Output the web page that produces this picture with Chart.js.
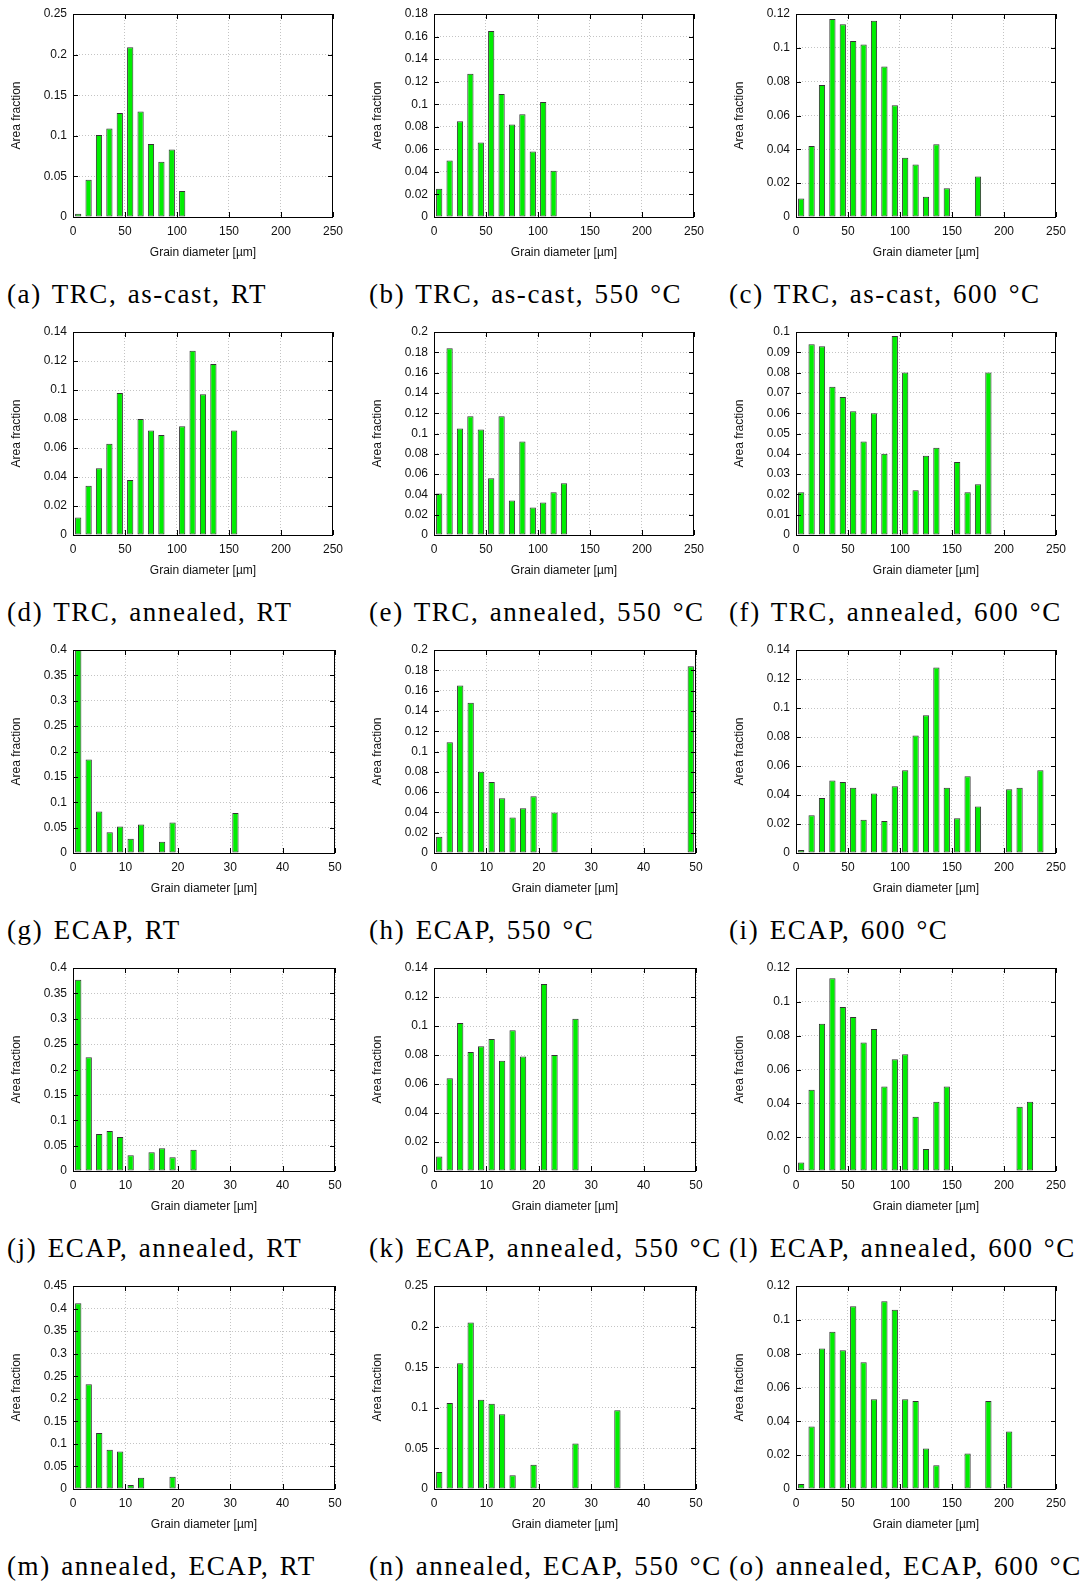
<!DOCTYPE html>
<html>
<head>
<meta charset="utf-8">
<script src="https://cdn.jsdelivr.net/npm/chart.js@4.4.1/dist/chart.umd.min.js"></script>
<style>
  body { margin: 0; background: #fff; width: 1083px; height: 1584px; position: relative; overflow: hidden; }
  .panel { position: absolute; width: 350px; height: 265px; }
  .caption {
    position: absolute;
    font-family: "Liberation Serif", serif;
    font-size: 27px;
    letter-spacing: 1.6px;
    word-spacing: 2px;
    line-height: 28px;
    color: #000;
    white-space: nowrap;
  }
</style>
</head>
<body>
<div id="root"></div>
<script>
// bin centres (µm)
const binsCoarse = [5, 15, 25, 35, 45, 55, 65, 75, 85, 95, 105, 115, 125, 135, 145,
  155, 165, 175, 185, 195, 205, 215, 225, 235, 245];
const binsFine = [1, 3, 5, 7, 9, 11, 13, 15, 17, 19, 21, 23, 25, 27, 29, 31, 33, 35,
  37, 39, 41, 43, 45, 47, 49];

// area fractions per bin
const valuesA = [0.004, 0.046, 0.101, 0.109, 0.128, 0.209, 0.130, 0.090, 0.068, 0.083, 0.032];
const valuesB = [0.025, 0.050, 0.085, 0.127, 0.066, 0.165, 0.109, 0.082, 0.091, 0.058, 0.102, 0.041];
const valuesC = [0.011, 0.042, 0.078, 0.117, 0.114, 0.104, 0.102, 0.116, 0.089, 0.066, 0.035,
  0.031, 0.012, 0.043, 0.017, 0, 0, 0.024];
const valuesD = [0.012, 0.034, 0.046, 0.063, 0.098, 0.038, 0.080, 0.072, 0.069, 0, 0.075,
  0.127, 0.097, 0.118, 0, 0.072];
const valuesE = [0.041, 0.184, 0.105, 0.117, 0.104, 0.056, 0.117, 0.034, 0.092, 0.027, 0.032,
  0.042, 0.051];
const valuesF = [0.021, 0.094, 0.093, 0.073, 0.068, 0.061, 0.046, 0.060, 0.040, 0.098, 0.080,
  0.022, 0.039, 0.043, 0, 0.036, 0.021, 0.025, 0.080];
const valuesG = [0.400, 0.184, 0.082, 0.041, 0.052, 0.028, 0.056, 0, 0.022, 0.060, 0, 0, 0, 0,
  0, 0.079];
const valuesH = [0.016, 0.109, 0.165, 0.148, 0.080, 0.070, 0.054, 0.035, 0.044, 0.056, 0, 0.040,
  0, 0, 0, 0, 0, 0, 0, 0, 0, 0, 0, 0, 0.184];
const valuesI = [0.002, 0.026, 0.038, 0.050, 0.049, 0.045, 0.023, 0.041, 0.022, 0.046, 0.057,
  0.081, 0.095, 0.128, 0.045, 0.024, 0.053, 0.032, 0, 0, 0.044, 0.045, 0, 0.057];
const valuesJ = [0.377, 0.224, 0.073, 0.079, 0.067, 0.031, 0, 0.037, 0.045, 0.027, 0, 0.042];
const valuesK = [0.010, 0.064, 0.102, 0.082, 0.086, 0.091, 0.076, 0.097, 0.079, 0, 0.129, 0.080,
  0, 0.105];
const valuesL = [0.005, 0.048, 0.087, 0.114, 0.097, 0.091, 0.076, 0.084, 0.050, 0.066, 0.069,
  0.032, 0.013, 0.041, 0.050, 0, 0, 0, 0, 0, 0, 0.038, 0.041];
const valuesM = [0.412, 0.232, 0.124, 0.087, 0.083, 0.009, 0.025, 0, 0, 0.027];
const valuesN = [0.021, 0.106, 0.155, 0.205, 0.110, 0.105, 0.092, 0.017, 0, 0.030, 0, 0, 0,
  0.056, 0, 0, 0, 0.097];
const valuesO = [0.003, 0.037, 0.083, 0.093, 0.082, 0.108, 0.075, 0.053, 0.111, 0.106, 0.053,
  0.052, 0.024, 0.014, 0, 0, 0.021, 0, 0.052, 0, 0.034];

// y axis tops and tick steps
const yMaxes = [0.25, 0.18, 0.12, 0.14, 0.2, 0.1, 0.4, 0.2, 0.14, 0.4, 0.14, 0.12, 0.45, 0.25, 0.12];
const ySteps = [0.05, 0.02, 0.02, 0.02, 0.02, 0.01, 0.05, 0.02, 0.02, 0.05, 0.02, 0.02, 0.05, 0.05, 0.02];

const captions = [
  "(a) TRC, as-cast, RT", "(b) TRC, as-cast, 550 °C", "(c) TRC, as-cast, 600 °C",
  "(d) TRC, annealed, RT", "(e) TRC, annealed, 550 °C", "(f) TRC, annealed, 600 °C",
  "(g) ECAP, RT", "(h) ECAP, 550 °C", "(i) ECAP, 600 °C",
  "(j) ECAP, annealed, RT", "(k) ECAP, annealed, 550 °C", "(l) ECAP, annealed, 600 °C",
  "(m) annealed, ECAP, RT", "(n) annealed, ECAP, 550 °C", "(o) annealed, ECAP, 600 °C",
];

const allValues = [valuesA, valuesB, valuesC, valuesD, valuesE, valuesF, valuesG, valuesH,
  valuesI, valuesJ, valuesK, valuesL, valuesM, valuesN, valuesO];
const fineBinned = [6, 7, 9, 10, 12, 13];

const colLeft = [0, 361, 723];
const rowTop = [0, 318, 636, 954, 1272];
const captionLeft = [7, 369, 729];

const tickFont = { family: "'Liberation Sans', Arial, sans-serif", size: 12 };

function fmt(v) {
  return String(Math.round(v * 1000) / 1000);
}

// gnuplot style frame with mirrored inward ticks
const framePlugin = {
  id: "frame",
  afterDatasetsDraw(chart) {
    const { ctx, chartArea: a, scales } = chart;
    const x = scales.x, y = scales.y;
    ctx.save();
    ctx.strokeStyle = "#000";
    ctx.lineWidth = 1;
    ctx.beginPath();
    y.ticks.forEach((t) => {
      const py = Math.round(y.getPixelForValue(t.value)) + 0.5;
      ctx.moveTo(a.left, py); ctx.lineTo(a.left + 5, py);
      ctx.moveTo(a.right, py); ctx.lineTo(a.right - 5, py);
    });
    x.ticks.forEach((t) => {
      const px = Math.round(x.getPixelForValue(t.value)) + 0.5;
      ctx.moveTo(px, a.bottom); ctx.lineTo(px, a.bottom - 5);
      ctx.moveTo(px, a.top); ctx.lineTo(px, a.top + 5);
    });
    ctx.stroke();
    ctx.strokeRect(Math.round(a.left) + 0.5, Math.round(a.top) + 0.5,
      Math.round(a.width) - 1, Math.round(a.height));
    ctx.restore();
  },
};

const root = document.getElementById("root");

allValues.forEach((values, i) => {
  const row = Math.floor(i / 3), col = i % 3;
  const fine = fineBinned.includes(i);
  const bins = fine ? binsFine : binsCoarse;
  const xMax = fine ? 50 : 250;

  const wrap = document.createElement("div");
  wrap.className = "panel";
  wrap.style.left = colLeft[col] + "px";
  wrap.style.top = rowTop[row] + "px";
  const canvas = document.createElement("canvas");
  canvas.width = 350;
  canvas.height = 265;
  wrap.appendChild(canvas);
  root.appendChild(wrap);

  const cap = document.createElement("div");
  cap.className = "caption";
  cap.textContent = captions[i];
  cap.style.left = captionLeft[col] + "px";
  cap.style.top = (rowTop[row] + 295 - 15) + "px";
  root.appendChild(cap);

  new Chart(canvas, {
    type: "bar",
    data: {
      datasets: [
        {
          data: values.map((v, k) => ({ x: bins[k], y: v })),
          backgroundColor: "#00ee00",
          borderColor: "#333333",
          borderWidth: 1,
          borderSkipped: false,
          barPercentage: 0.6,
          categoryPercentage: 1,
        },
      ],
    },
    options: {
      responsive: false,
      animation: false,
      layout: { padding: { top: 14, right: 15, bottom: 0, left: 0 } },
      plugins: { legend: { display: false }, tooltip: { enabled: false } },
      scales: {
        x: {
          type: "linear",
          min: 0,
          max: xMax,
          offset: false,
          grid: { offset: false, color: "#c4c4c4", drawTicks: false },
          border: { display: false, dash: [1, 2] },
          ticks: {
            stepSize: xMax / 5,
            padding: 7,
            maxRotation: 0,
            autoSkip: false,
            color: "#111",
            font: tickFont,
          },
          title: {
            display: true,
            text: "Grain diameter [\u00b5m]",
            color: "#111",
            font: tickFont,
            padding: { top: 0, bottom: 5 },
          },
          afterFit(scale) { scale.height = 48; },
        },
        y: {
          min: 0,
          max: yMaxes[i],
          grid: { color: "#c4c4c4", drawTicks: false },
          border: { display: false, dash: [1, 2] },
          ticks: {
            stepSize: ySteps[i],
            padding: 6,
            color: "#111",
            font: tickFont,
            callback: (v) => fmt(v),
          },
          title: {
            display: true,
            text: "Area fraction",
            color: "#111",
            font: tickFont,
            padding: { top: 9.5, bottom: 0 },
          },
          afterFit(scale) { scale.width = 73; },
        },
      },
    },
    plugins: [framePlugin],
  });
});
</script>
</body>
</html>
